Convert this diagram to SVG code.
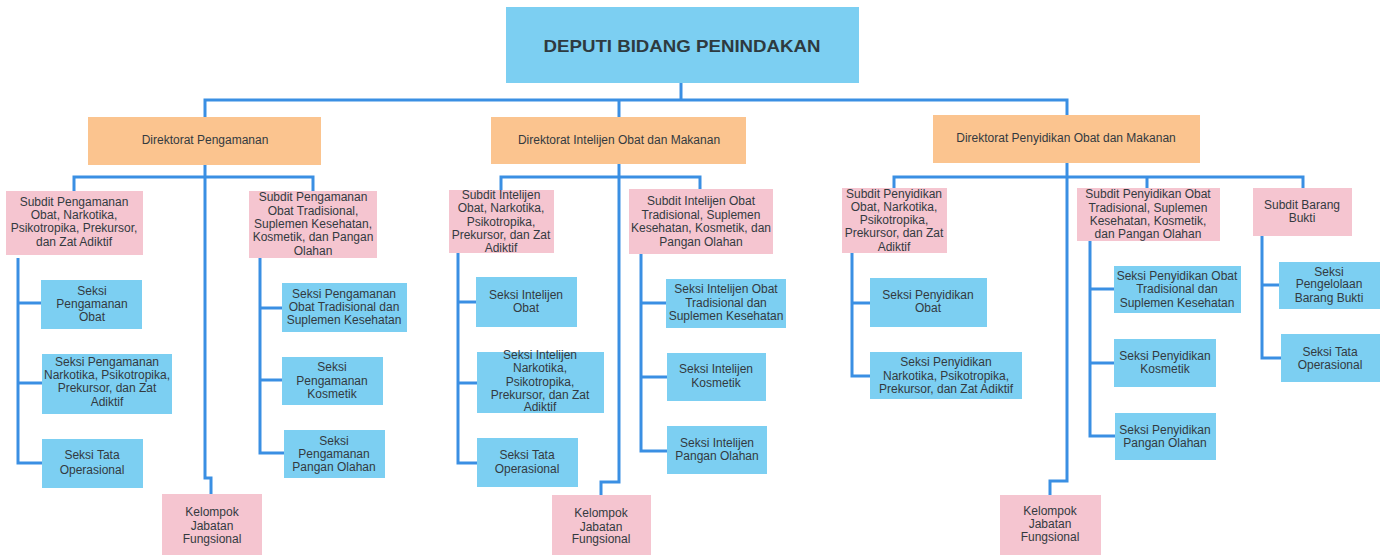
<svg xmlns="http://www.w3.org/2000/svg" width="1386" height="555" viewBox="0 0 1386 555">
<style>
.b{fill:#7ccff2}
.o{fill:#fbc48f}
.p{fill:#f5c5d0}
.t{font-family:"Liberation Sans",Arial,sans-serif;font-size:12px;fill:#333a3f;text-anchor:middle}
.h{font-family:"Liberation Sans",Arial,sans-serif;font-size:17px;font-weight:bold;fill:#2e3a40;text-anchor:middle}
.c path{fill:none;stroke:#3a8fe3;stroke-width:3}
</style>
<rect width="1386" height="555" fill="#ffffff"/>
<g class="c" id="connectors">
<path d="M681,83 V100"/>
<path d="M205,117 V100 H1067 V115"/>
<path d="M619,100 V117"/>
<path d="M205,165 V478 H211 V494"/>
<path d="M74,191 V177 H313 V191"/>
<path d="M18,258 V463 H42 M18,303 H41 M18,383 H42"/>
<path d="M260,258 V453 H284 M260,308 H282 M260,380 H282"/>
<path d="M619,164 V482 H601 V495"/>
<path d="M501,190 V177 H700 V189"/>
<path d="M458,253 V463 H477 M458,302 H476 M458,383 H477"/>
<path d="M641,254 V451 H667 M641,303 H666 M641,377 H667"/>
<path d="M1067,163 V481 H1050 V495"/>
<path d="M894,188 V177 H1303 V188 M1147,177 V188"/>
<path d="M852,253 V376 H870 M852,303 H870"/>
<path d="M1090,241 V436 H1115 M1090,289 H1114 M1090,363 H1114"/>
<path d="M1262,236 V358 H1281 M1262,285 H1279"/>
</g>
<g id="deputi"><rect class="b" x="506" y="7" width="353" height="76" fill="#6cc7ef"/><text class="h" x="682" y="52" textLength="277" lengthAdjust="spacingAndGlyphs">DEPUTI BIDANG PENINDAKAN</text></g>
<g id="dir-pengamanan"><rect class="o" x="88" y="117" width="233" height="48"/><text class="t" x="205" y="144">Direktorat Pengamanan</text></g>
<g id="dir-intelijen"><rect class="o" x="491" y="117" width="255" height="47"/><text class="t" x="619" y="144">Direktorat Intelijen Obat dan Makanan</text></g>
<g id="dir-penyidikan"><rect class="o" x="933" y="115" width="267" height="48"/><text class="t" x="1066" y="142">Direktorat Penyidikan Obat dan Makanan</text></g>

<g id="subdit-peng-obat"><rect class="p" x="6" y="191" width="137" height="64"/><text class="t" x="74" y="206">Subdit Pengamanan</text><text class="t" x="74" y="219">Obat, Narkotika,</text><text class="t" x="74" y="232">Psikotropika, Prekursor,</text><text class="t" x="74" y="246">dan Zat Adiktif</text></g>
<g id="subdit-peng-trad"><rect class="p" x="249" y="191" width="128" height="67"/><text class="t" x="313" y="201">Subdit Pengamanan</text><text class="t" x="313" y="215">Obat Tradisional,</text><text class="t" x="313" y="228">Suplemen Kesehatan,</text><text class="t" x="313" y="241">Kosmetik, dan Pangan</text><text class="t" x="313" y="255">Olahan</text></g>
<g id="seksi-peng-obat"><rect class="b" x="41" y="280" width="101" height="49"/><text class="t" x="92" y="295">Seksi</text><text class="t" x="92" y="308">Pengamanan</text><text class="t" x="92" y="321">Obat</text></g>
<g id="seksi-peng-nark"><rect class="b" x="42" y="354" width="130" height="60"/><text class="t" x="107" y="366">Seksi Pengamanan</text><text class="t" x="107" y="379">Narkotika, Psikotropika,</text><text class="t" x="107" y="392">Prekursor, dan Zat</text><text class="t" x="107" y="406">Adiktif</text></g>
<g id="seksi-peng-tata"><rect class="b" x="42" y="439" width="101" height="49"/><text class="t" x="92" y="459">Seksi Tata</text><text class="t" x="92" y="474">Operasional</text></g>
<g id="seksi-peng-trad"><rect class="b" x="282" y="283" width="125" height="49"/><text class="t" x="344" y="298">Seksi Pengamanan</text><text class="t" x="344" y="311">Obat Tradisional dan</text><text class="t" x="344" y="324">Suplemen Kesehatan</text></g>
<g id="seksi-peng-kos"><rect class="b" x="282" y="357" width="101" height="48"/><text class="t" x="332" y="371">Seksi</text><text class="t" x="332" y="385">Pengamanan</text><text class="t" x="332" y="398">Kosmetik</text></g>
<g id="seksi-peng-pangan"><rect class="b" x="284" y="430" width="101" height="48"/><text class="t" x="334" y="445">Seksi</text><text class="t" x="334" y="458">Pengamanan</text><text class="t" x="334" y="471">Pangan Olahan</text></g>
<g id="kelompok-peng"><rect class="p" x="162" y="494" width="100" height="61"/><text class="t" x="212" y="516">Kelompok</text><text class="t" x="212" y="530">Jabatan</text><text class="t" x="212" y="543">Fungsional</text></g>

<g id="subdit-int-obat"><rect class="p" x="449" y="190" width="105" height="63"/><text class="t" x="501" y="199">Subdit Intelijen</text><text class="t" x="501" y="212">Obat, Narkotika,</text><text class="t" x="501" y="226">Psikotropika,</text><text class="t" x="501" y="239">Prekursor, dan Zat</text><text class="t" x="501" y="252">Adiktif</text></g>
<g id="subdit-int-trad"><rect class="p" x="629" y="189" width="144" height="65"/><text class="t" x="701" y="205">Subdit Intelijen Obat</text><text class="t" x="701" y="219">Tradisional, Suplemen</text><text class="t" x="701" y="232">Kesehatan, Kosmetik, dan</text><text class="t" x="701" y="246">Pangan Olahan</text></g>
<g id="seksi-int-obat"><rect class="b" x="476" y="277" width="101" height="50"/><text class="t" x="526" y="299">Seksi Intelijen</text><text class="t" x="526" y="312">Obat</text></g>
<g id="seksi-int-nark"><rect class="b" x="477" y="352" width="127" height="61"/><text class="t" x="540" y="359">Seksi Intelijen</text><text class="t" x="540" y="372">Narkotika,</text><text class="t" x="540" y="386">Psikotropika,</text><text class="t" x="540" y="399">Prekursor, dan Zat</text><text class="t" x="540" y="411">Adiktif</text></g>
<g id="seksi-int-tata"><rect class="b" x="477" y="438" width="101" height="49"/><text class="t" x="527" y="459">Seksi Tata</text><text class="t" x="527" y="473">Operasional</text></g>
<g id="seksi-int-trad"><rect class="b" x="666" y="279" width="120" height="49"/><text class="t" x="726" y="293">Seksi Intelijen Obat</text><text class="t" x="726" y="307">Tradisional dan</text><text class="t" x="726" y="320">Suplemen Kesehatan</text></g>
<g id="seksi-int-kos"><rect class="b" x="667" y="353" width="99" height="48"/><text class="t" x="716" y="373">Seksi Intelijen</text><text class="t" x="716" y="387">Kosmetik</text></g>
<g id="seksi-int-pangan"><rect class="b" x="667" y="426" width="100" height="48"/><text class="t" x="717" y="447">Seksi Intelijen</text><text class="t" x="717" y="460">Pangan Olahan</text></g>
<g id="kelompok-int"><rect class="p" x="552" y="495" width="99" height="60"/><text class="t" x="601" y="517">Kelompok</text><text class="t" x="601" y="531">Jabatan</text><text class="t" x="601" y="543">Fungsional</text></g>

<g id="subdit-pny-obat"><rect class="p" x="842" y="188" width="105" height="65"/><text class="t" x="894" y="198">Subdit Penyidikan</text><text class="t" x="894" y="211">Obat, Narkotika,</text><text class="t" x="894" y="224">Psikotropika,</text><text class="t" x="894" y="237">Prekursor, dan Zat</text><text class="t" x="894" y="251">Adiktif</text></g>
<g id="subdit-pny-trad"><rect class="p" x="1077" y="188" width="143" height="53"/><text class="t" x="1148" y="198">Subdit Penyidikan Obat</text><text class="t" x="1148" y="212">Tradisional, Suplemen</text><text class="t" x="1148" y="225">Kesehatan, Kosmetik,</text><text class="t" x="1148" y="238">dan Pangan Olahan</text></g>
<g id="subdit-barang"><rect class="p" x="1253" y="188" width="99" height="48"/><text class="t" x="1302" y="209">Subdit Barang</text><text class="t" x="1302" y="222">Bukti</text></g>
<g id="seksi-pny-obat"><rect class="b" x="870" y="278" width="117" height="49"/><text class="t" x="928" y="299">Seksi Penyidikan</text><text class="t" x="928" y="312">Obat</text></g>
<g id="seksi-pny-nark"><rect class="b" x="870" y="352" width="152" height="47"/><text class="t" x="946" y="366">Seksi Penyidikan</text><text class="t" x="946" y="380">Narkotika, Psikotropika,</text><text class="t" x="946" y="393">Prekursor, dan Zat Adiktif</text></g>
<g id="seksi-pny-trad"><rect class="b" x="1114" y="266" width="127" height="47"/><text class="t" x="1177" y="280">Seksi Penyidikan Obat</text><text class="t" x="1177" y="293">Tradisional dan</text><text class="t" x="1177" y="307">Suplemen Kesehatan</text></g>
<g id="seksi-pny-kos"><rect class="b" x="1114" y="339" width="102" height="48"/><text class="t" x="1165" y="360">Seksi Penyidikan</text><text class="t" x="1165" y="373">Kosmetik</text></g>
<g id="seksi-pny-pangan"><rect class="b" x="1115" y="413" width="101" height="47"/><text class="t" x="1165" y="434">Seksi Penyidikan</text><text class="t" x="1165" y="447">Pangan Olahan</text></g>
<g id="seksi-pengelolaan"><rect class="b" x="1279" y="262" width="101" height="47"/><text class="t" x="1329" y="276">Seksi</text><text class="t" x="1329" y="288">Pengelolaan</text><text class="t" x="1329" y="302">Barang Bukti</text></g>
<g id="seksi-pny-tata"><rect class="b" x="1281" y="334" width="99" height="48"/><text class="t" x="1330" y="356">Seksi Tata</text><text class="t" x="1330" y="369">Operasional</text></g>
<g id="kelompok-pny"><rect class="p" x="1000" y="495" width="101" height="60"/><text class="t" x="1050" y="515">Kelompok</text><text class="t" x="1050" y="528">Jabatan</text><text class="t" x="1050" y="541">Fungsional</text></g>
</svg>
